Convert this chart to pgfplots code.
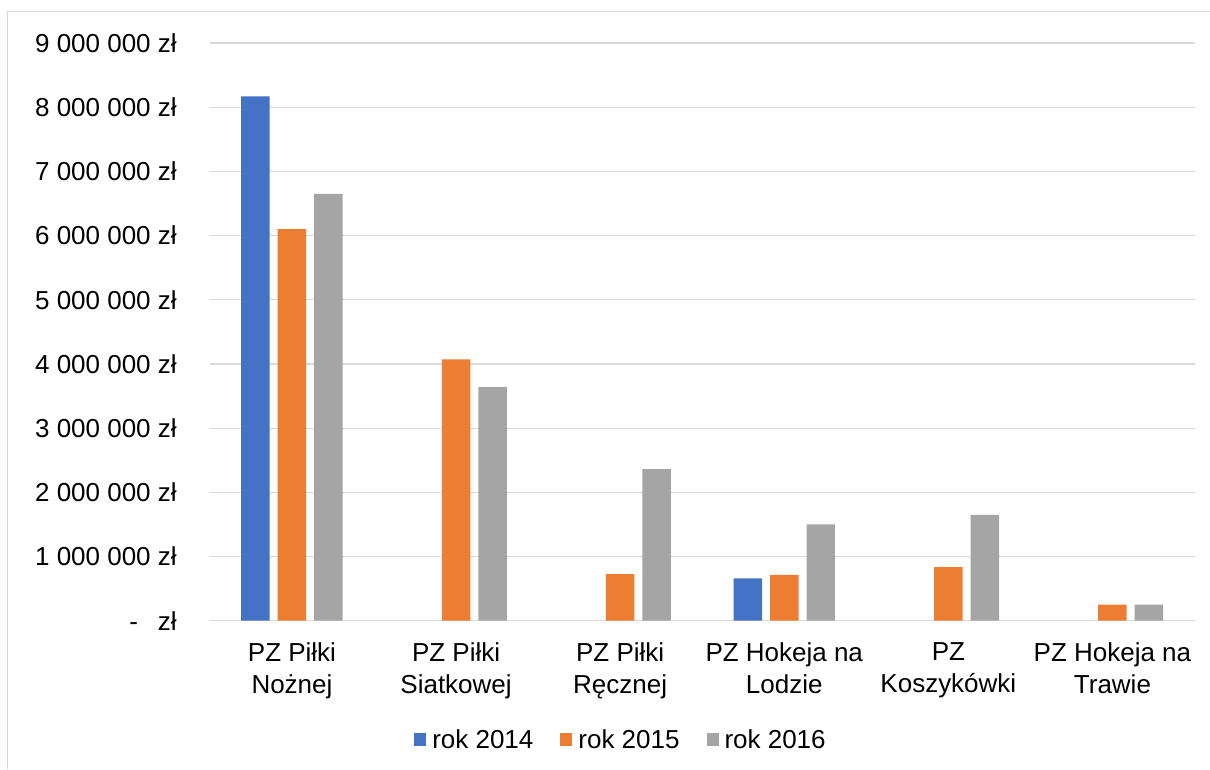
\documentclass[border=0pt]{standalone}
\usepackage{fontspec}
\setmainfont{Liberation Sans}
\usepackage{pgfplots}
\pgfplotsset{compat=1.18}
\definecolor{c14}{HTML}{4472C4}
\definecolor{c15}{HTML}{ED7D31}
\definecolor{c16}{HTML}{A5A5A5}
\definecolor{gridc}{HTML}{D9D9D9}
\begin{document}
\begin{tikzpicture}
\begin{axis}[
  scale only axis,
  width=985pt, height=578pt,
  ymin=0, ymax=9000000,
  xmin=-0.5, xmax=5.5,
  ybar=8pt, bar width=28.5pt,
  axis line style={draw=none},
  major tick length=0pt,
  ymajorgrids, grid style={gridc, line width=1.2pt},
  ytick={0,1000000,2000000,3000000,4000000,5000000,6000000,7000000,8000000,9000000},
  yticklabels={{-\hspace{20pt}zł},{1 000 000 zł},{2 000 000 zł},{3 000 000 zł},{4 000 000 zł},{5 000 000 zł},{6 000 000 zł},{7 000 000 zł},{8 000 000 zł},{9 000 000 zł}},
  scaled y ticks=false,
  xtick={0,1,2,3,4,5},
  xticklabels={{PZ Piłki\\Nożnej},{PZ Piłki\\Siatkowej},{PZ Piłki\\Ręcznej},{PZ Hokeja na\\Lodzie},{PZ\\Koszykówki},{PZ Hokeja na\\Trawie}},
  tick label style={font=\fontsize{26}{32}\selectfont, text=black},
  yticklabel style={anchor=east, inner sep=0pt, xshift=-33pt},
  xticklabel style={align=center, anchor=north, inner sep=0pt, yshift=-22pt},
  legend columns=3,
  legend style={draw=none, at={(0.417,-0.206)}, anchor=center, font=\fontsize{26}{30}\selectfont,
    inner sep=0pt, nodes={inner sep=1pt},
    /tikz/every odd column/.append style={column sep=5pt},
    /tikz/every even column/.append style={column sep=26pt}},
  legend image code/.code={\draw[#1,draw=none] (0pt,-6.5pt) rectangle (12pt,6.5pt);},
]
\addplot[fill=c14, draw=none] coordinates {(0,8170000) (3,660000)};
\addplot[fill=c15, draw=none] coordinates {(0,6100000) (1,4070000) (2,725000) (3,715000) (4,835000) (5,250000)};
\addplot[fill=c16, draw=none] coordinates {(0,6650000) (1,3640000) (2,2360000) (3,1500000) (4,1650000) (5,250000)};
\legend{rok 2014, rok 2015, rok 2016}
\end{axis}
\draw[gridc, line width=1pt] (-202pt,-148pt) -- (-202pt,609pt) -- (1000pt,609pt);
\useasboundingbox (-210pt,-148pt) rectangle (1000pt,621pt);
\end{tikzpicture}
\end{document}
